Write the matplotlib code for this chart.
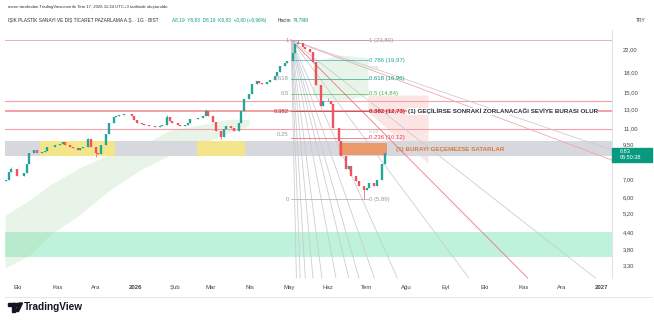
import numpy as np
import pandas as pd
import matplotlib
matplotlib.use("Agg")
import matplotlib.pyplot as plt
import matplotlib.dates as mdates
import matplotlib.transforms as mtransforms
from matplotlib.patches import Rectangle, Polygon, Circle

plt.rcParams['font.family'] = ['Liberation Sans', 'DejaVu Sans']

# ---------------- data ----------------
start_date = "2025-09-22"
first_open = 6.90
closes = [6.97, 7.50, 7.70, 7.20, 7.25, 7.40, 8.00, 8.80, 9.05, 8.85,
          8.90, 9.00, 9.30, 9.35, 9.50, 9.60, 9.70, 9.50, 9.30, 9.20,
          9.10, 9.25, 9.30, 10.00, 9.30, 8.80, 8.75, 9.50, 10.40, 11.50,
          12.10, 12.20, 12.30, 12.40, 12.40, 12.20, 11.80, 11.50, 11.40, 11.30,
          11.20, 11.20, 11.10, 11.15, 11.30, 12.10, 11.70, 11.45, 11.30, 11.20,
          11.30, 11.50, 11.90, 11.90, 12.00, 12.20, 12.80, 12.20, 11.60, 10.70,
          10.20, 10.90, 11.20, 11.00, 10.70, 11.50, 12.80, 14.20, 14.80, 16.20,
          16.60, 16.40, 16.20, 16.50, 16.80, 17.40, 18.00, 18.90, 19.50, 19.80,
          21.30, 23.00, 23.20, 22.40, 22.00, 21.40, 19.60, 16.00, 13.30, 14.00,
          14.00, 13.60, 11.00, 9.80, 8.60, 7.70, 7.90, 7.20, 6.90, 6.60,
          6.40, 6.50, 6.80, 6.60, 7.00, 8.00, 8.83]
spike_highs = {2: 7.80, 23: 10.07, 45: 12.3, 56: 13.0, 82: 23.80, 90: 14.30}
spike_lows = {25: 8.55, 60: 10.0, 100: 5.89}

last_price = 8.83
last_time = "06:50:38"

fib_low, fib_high = 5.89, 23.80
fib_levels = [0, 0.236, 0.382, 0.5, 0.618, 0.786, 1]
fib_colors = ["#9598a1", "#f23645", "#b22833", "#4caf50", "#089981", "#22a5b5", "#9598a1"]
fib_start, fib_end = "2026-05-03", "2026-07-02"
fib_extra_levels = [0.25, 0.75]
fib_left_labels = ["1", "0.618", "0.5", "0.382", "0.25", "0"]
fib_left_values = [1, 0.618, 0.5, 0.382, 0.25, 0]

full_lines = [23.80, 13.94, 12.73, 10.90]
full_line_widths = [0.6, 0.8, 1.4, 0.8]

grey_band = (8.60, 9.81)
yellow_boxes = [("2025-10-18", "2025-12-16"), ("2026-02-18", "2026-03-28")]
orange_box = ("2026-06-09", "2026-07-17", 8.67, 9.64)
green_zone = (3.55, 4.41)

cloud1_dates = ["2025-09-21", "2025-10-10", "2025-10-26", "2025-11-18", "2025-12-12",
                "2026-01-05", "2026-01-28", "2026-02-20", "2026-03-16", "2026-03-31"]
cloud1_top = [5.12, 5.84, 6.67, 7.74, 8.75, 9.40, 10.80, 11.29, 11.90, 11.85]
cloud1_bot = [3.22, 3.60, 4.30, 5.12, 6.38, 7.61, 8.67, 9.47, 10.60, 11.20]
cloud2_dates = ["2026-05-20", "2026-06-09", "2026-07-02"]
cloud2_top = [19.6, 20.9, 20.4]
cloud2_bot = [14.69, 13.94, 14.69]
cloud3_dates = ["2026-07-02", "2026-07-27", "2026-08-18"]
cloud3_top = [14.69, 14.69, 14.69]
cloud3_bot = [12.70, 9.90, 8.09]

fan_origin = ("2026-05-03", 23.80)
fan_bottom_dates = ["2026-05-07", "2026-05-10", "2026-05-14", "2026-05-20", "2026-05-27",
                    "2026-06-07", "2026-06-17", "2026-06-25", "2026-07-07", "2026-07-25",
                    "2026-09-19", "2026-11-04", "2026-12-27"]
fan_bottom_red = [False] * 11 + [True, False]
fan_bottom_price = 2.95
fan_right_prices = [9.06, 8.30]
fan_right_red = [False, True]
fan_right_date = "2027-01-09"

xtick_dates = ["2025-10-01", "2025-11-01", "2025-12-01", "2026-01-01", "2026-02-01",
               "2026-03-01", "2026-04-01", "2026-05-01", "2026-06-01", "2026-07-01",
               "2026-08-01", "2026-09-01", "2026-10-01", "2026-11-01", "2026-12-01",
               "2027-01-01"]
xtick_labels = ["Eki", "Kas", "Ara", "2026", "Şub", "Mar", "Nis", "May", "Haz", "Tem",
                "Ağu", "Eyl", "Eki", "Kas", "Ara", "2027"]
ytick_values = [22, 18, 15, 13, 11, 9.5, 7, 6, 5.2, 4.4, 3.8, 3.3]

# ---------------- figure ----------------
W, H = 654, 322
fig = plt.figure(figsize=(W / 100, H / 100), dpi=100)
fig.patch.set_facecolor("white")
ax = fig.add_axes([5 / W, 1 - 278 / H, 607 / W, 248 / H])
ax.set_yscale("log")
ax.set_ylim(2.95, 26.0)
ax.set_xlim(pd.Timestamp("2025-09-21"), pd.Timestamp("2027-01-09"))
T = pd.Timestamp

# background zones
ax.axhspan(*green_zone, color="#bff2da", lw=0, zorder=0)
ax.axhspan(*grey_band, color="#d6d8de", lw=0, zorder=0.5)
for a, b in yellow_boxes:
    ax.add_patch(Rectangle((mdates.date2num(T(a)), grey_band[0]),
                           mdates.date2num(T(b)) - mdates.date2num(T(a)),
                           grey_band[1] - grey_band[0], color="#f3e68a", lw=0, zorder=0.6))

# clouds
d1 = pd.to_datetime(cloud1_dates)
ax.fill_between(d1, cloud1_bot, cloud1_top, color="#a5d6a7", alpha=0.25, lw=0, zorder=0.4)
d2 = pd.to_datetime(cloud2_dates)
ax.fill_between(d2, cloud2_bot, cloud2_top, color="#a5d6a7", alpha=0.25, lw=0, zorder=0.4)
d3 = pd.to_datetime(cloud3_dates)
ax.fill_between(d3, cloud3_bot, cloud3_top, color="#f7a9a9", alpha=0.3, lw=0, zorder=0.4)

# full-width horizontal lines
for v, lw in zip(full_lines, full_line_widths):
    ax.axhline(v, color="#f3a0a6", lw=lw, zorder=1)

# fan lines
ox = T(fan_origin[0])
for d, red in zip(fan_bottom_dates, fan_bottom_red):
    ax.plot([ox, T(d)], [fan_origin[1], fan_bottom_price],
            color="#f06b74" if red else "#c8cad0", lw=0.55, zorder=1.2, clip_on=False)
for p, red in zip(fan_right_prices, fan_right_red):
    ax.plot([ox, T(fan_right_date)], [fan_origin[1], p],
            color="#f3a0a6" if red else "#c8cad0", lw=0.55, zorder=1.2)

# fib retracement
fs, fe = T(fib_start), T(fib_end)
for lvl, col in zip(fib_levels, fib_colors):
    v = fib_low + lvl * (fib_high - fib_low)
    ax.plot([fs, fe], [v, v], color=col, lw=0.6, alpha=0.7, zorder=1.3)
    lab = f"{lvl:g} (" + f"{v:.2f}".replace(".", ",") + ")"
    ax.text(fe + pd.Timedelta(days=1), v, lab, fontsize=4.3, color=col,
            va="center", ha="left", zorder=5,
            fontweight="bold" if lvl == 0.382 else "normal")
for lvl in fib_extra_levels:
    v = fib_low + lvl * (fib_high - fib_low)
    if lvl < 0.5:
        ax.text(fe + pd.Timedelta(days=1), v * 1.008, f"{lvl:g}", fontsize=3.8,
                color="#c3c5cc", va="bottom", ha="left", zorder=5)
    else:
        ax.text(fe + pd.Timedelta(days=1), v * 0.985, f"{lvl:g}", fontsize=3.8,
                color="#c3c5cc", va="top", ha="left", zorder=5)
for lab, lvl in zip(fib_left_labels, fib_left_values):
    v = fib_low + lvl * (fib_high - fib_low)
    ax.text(fs - pd.Timedelta(days=2), v, lab, fontsize=4.3,
            color="#b22833" if lab == "0.382" else "#9598a1", va="center", ha="right", zorder=5)

# orange box
ax.add_patch(Rectangle((mdates.date2num(T(orange_box[0])), orange_box[2]),
                       mdates.date2num(T(orange_box[1])) - mdates.date2num(T(orange_box[0])),
                       orange_box[3] - orange_box[2], color="#eb9a6c", lw=0, zorder=2))

# candles
dates = pd.bdate_range(start_date, periods=len(closes) * 2)[::2]
opens = [first_open] + closes[:-1]
for i, (d, o, c) in enumerate(zip(dates, opens, closes)):
    col = "#26a69a" if c >= o else "#f0525e"
    hi = spike_highs.get(i, max(o, c))
    lo = spike_lows.get(i, min(o, c))
    ax.vlines(d, lo, hi, color=col, lw=0.5, zorder=3)
    ax.vlines(d, min(o, c), max(o, c), color=col, lw=1.7, zorder=3)

# annotations
ax.text(T("2026-08-02"), 12.73, "(1) GEÇİLİRSE SONRAKİ ZORLANACAĞI SEVİYE BURASI OLUR",
        fontsize=4.5, color="#2a2e39", fontweight="bold", va="center", ha="left", zorder=6,
        bbox=dict(facecolor="white", edgecolor="none", pad=0.3))
ax.text(T("2026-07-24"), 9.12, "(1) BURAYI GEÇEMEZSE SATARLAR",
        fontsize=4.5, color="#e0782f", fontweight="bold", va="center", ha="left", zorder=6)

# axes styling
for s in ["top", "left", "bottom"]:
    ax.spines[s].set_visible(False)
ax.spines["right"].set_color("#e0e3eb")
ax.spines["right"].set_linewidth(0.8)
ax.yaxis.tick_right()
ax.set_yticks(ytick_values)
ax.set_yticklabels([f"{v:.2f}".replace(".", ",") for v in ytick_values])
ax.yaxis.set_minor_locator(matplotlib.ticker.NullLocator())
ax.tick_params(axis="y", length=0, pad=8, labelsize=4.2, labelcolor="#434651")
ax.set_xticks(pd.to_datetime(xtick_dates))
ax.set_xticklabels(xtick_labels)
ax.tick_params(axis="x", length=0, pad=5, labelsize=4.3, labelcolor="#434651")
for t in ax.get_xticklabels():
    if t.get_text() in ("2026", "2027"):
        t.set_fontweight("bold")

# last price label
tr = mtransforms.blended_transform_factory(ax.transAxes, ax.transData)
ax.add_patch(Rectangle((1.0, last_price * 0.922), 0.066, last_price * (1.042 - 0.922),
                       transform=tr, color="#089981", clip_on=False, zorder=10))
ax.text(1.012, last_price * 1.016, f"{last_price:.2f}".replace(".", ","), transform=tr,
        fontsize=4.0, color="white", va="center", ha="left", zorder=11, clip_on=False)
ax.text(1.012, last_price * 0.958, last_time, transform=tr,
        fontsize=4.0, color="white", va="center", ha="left", zorder=11, clip_on=False)

# overlay for header / footer
ov = fig.add_axes([0, 0, 1, 1], zorder=-1)
ov.set_xlim(0, W)
ov.set_ylim(H, 0)
ov.axis("off")
ov.text(8, 7, "asrnn tarafından TradingView.com ile Tem 17, 2026 11:34 UTC+3 tarihinde oluşturuldu",
        fontsize=3.1, color="#2a2e39", va="center", ha="left")
ov.text(8, 20, "IŞIK PLASTİK SANAYİ VE DIŞ TİCARET PAZARLAMA A.Ş. · 1G · BIST",
        fontsize=3.4, color="#2a2e39", va="center", ha="left")
ov.text(172, 20, "A8,19  Y8,83  D8,16  K8,83  +0,80 (+9,96%)",
        fontsize=3.4, color="#089981", va="center", ha="left")
ov.text(278, 20, "Hacim", fontsize=3.4, color="#2a2e39", va="center", ha="left")
ov.text(293, 20, "74,79M", fontsize=3.4, color="#089981", va="center", ha="left")
ov.text(636, 20, "TRY", fontsize=3.6, color="#434651", va="center", ha="left")
ov.plot([5, 652], [297, 297], color="#e0e3eb", lw=0.6)
# logo
ov.add_patch(Rectangle((8, 303), 7, 3, color="#131722"))
ov.add_patch(Rectangle((11.5, 303), 3.5, 8.5, color="#131722"))
ov.add_patch(Circle((17.3, 305), 1.6, color="#131722"))
ov.add_patch(Polygon([[19, 303], [22.5, 303], [18.5, 311.5], [15.5, 311.5]], color="#131722"))
ov.text(24, 307.5, "TradingView", fontsize=7.2, fontweight="bold", color="#131722",
        va="center", ha="left")

fig.savefig("out.png", dpi=100, facecolor="white")
